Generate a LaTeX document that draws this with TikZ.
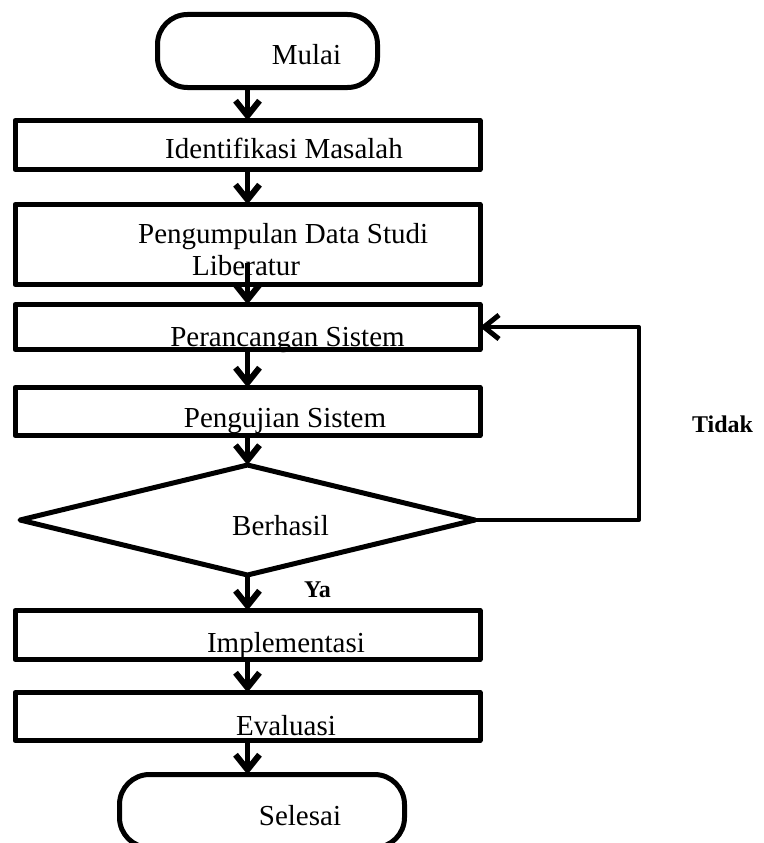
\documentclass[tikz,border=0pt]{standalone}
\usepackage{fontspec}
\setmainfont{Liberation Serif}
\usetikzlibrary{positioning,shapes.geometric,arrows.meta}

\begin{document}
\begin{tikzpicture}[x=1pt,y=-1pt,
    font=\fontsize{29}{32}\selectfont,
    line join=round,
    box/.style={draw, line width=5pt, rectangle, outer sep=0pt, inner sep=0pt, minimum width=465pt},
    terminal/.style={draw, line width=5pt, rectangle, rounded corners=30pt, outer sep=0pt, inner sep=0pt, minimum height=73pt},
    decision/.style={draw, line width=5pt, diamond, outer sep=0pt, inner sep=0pt, minimum width=455pt, minimum height=110pt},
    txt/.style={anchor=base, inner sep=0pt},
    answer/.style={anchor=base, inner sep=0pt, font=\fontsize{24}{28}\selectfont\bfseries},
    flow/.style={line width=5pt, -{Straight Barb[length=15pt,width=24pt,line width=6pt]}},
    back/.style={line width=4pt, -{Straight Barb[length=15pt,width=24pt,line width=5pt]}}
  ]
  \useasboundingbox (0,0) rectangle (763,843);

  \node[terminal, minimum width=220pt] (mulai) at (267.5,51) {};
  \node[box, minimum height=49pt, below=33pt of mulai, xshift=-20pt] (ident) {};
  \node[box, minimum height=80pt, below=35pt of ident] (data) {};
  \node[box, minimum height=45pt, below=20pt of data] (rancang) {};
  \node[box, minimum height=48pt, below=38pt of rancang] (uji) {};
  \node[decision, below=29.5pt of uji] (hasil) {};
  \node[box, minimum height=49pt, below=35.5pt of hasil] (impl) {};
  \node[box, minimum height=48pt, below=33pt of impl] (eval) {};
  \node[terminal, minimum width=285pt, below=34pt of eval, xshift=14.5pt] (selesai) {};
  \coordinate (ret) at (639,520);

  % texts
  \node[txt] (tmulai) at ([xshift=39pt,yshift=-14pt]mulai.center) {Mulai};
  \node[txt] (tident) at ([xshift=36.5pt,yshift=-13pt]ident.center) {Identifikasi Masalah};
  \node[txt, anchor=base west, align=left] (tdata) at ([xshift=-109.5pt,yshift=-30.5pt]data.center)
    {Pengumpulan Data Studi\\\hspace*{54pt}Liberatur};
  \node[txt] (trancang) at ([xshift=40pt,yshift=-19pt]rancang.center) {Perancangan Sistem};
  \node[txt] (tuji) at ([xshift=37.5pt,yshift=-15.5pt]uji.center) {Pengujian Sistem};
  \node[txt] (thasil) at ([xshift=33pt,yshift=-15pt]hasil.center) {Berhasil};
  \node[txt] (timpl) at ([xshift=38.5pt,yshift=-17pt]impl.center) {Implementasi};
  \node[txt] (teval) at ([xshift=38.5pt,yshift=-18.5pt]eval.center) {Evaluasi};
  \node[txt] (tselesai) at ([xshift=38pt,yshift=-14pt]selesai.center) {Selesai};
  \node[answer] (ya) at ([xshift=70pt,yshift=-22pt]hasil.south) {Ya};
  \node[answer] (tidak) at ([xshift=83.5pt,yshift=88pt]ret) {Tidak};

  % connectors
  \draw[flow] (ident.north |- mulai.south) -- (ident.north);
  \draw[flow] (ident.south) -- (data.north);
  \draw[flow] ([yshift=22pt]data.south) -- (rancang.north);
  \draw[flow] (rancang.south) -- (uji.north);
  \draw[flow] (uji.south) -- (hasil.north);
  \draw[flow] (hasil.south) -- (impl.north);
  \draw[flow] (impl.south) -- (eval.north);
  \draw[flow] (eval.south) -- (eval.south |- selesai.north);
  \draw[back] (hasil.east) -- (ret) |- (rancang.east);
\end{tikzpicture}
\end{document}
